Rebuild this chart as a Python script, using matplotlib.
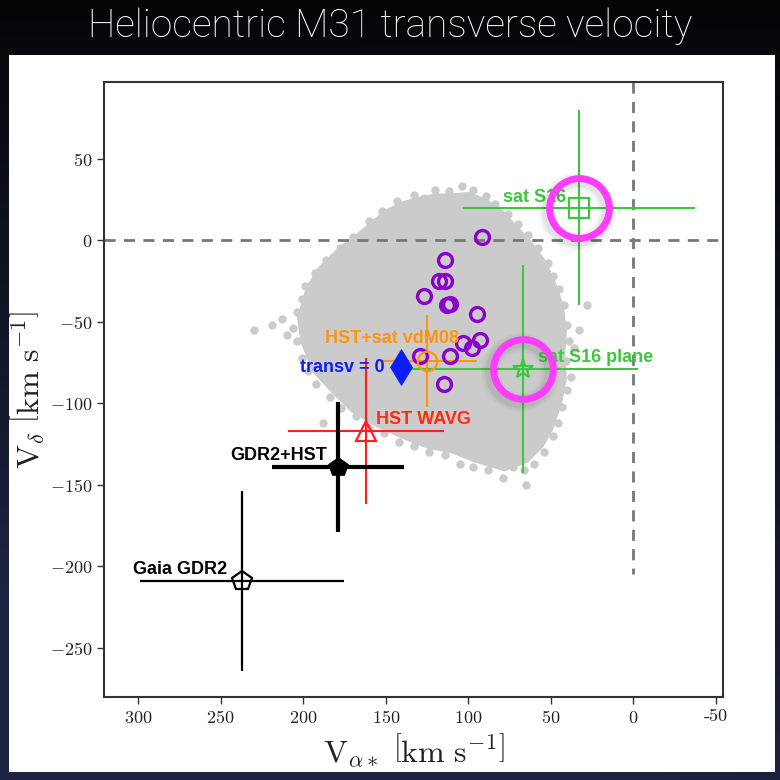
import matplotlib
matplotlib.use("Agg")
import matplotlib.pyplot as plt
import numpy as np
from matplotlib.patches import Rectangle, Polygon

plt.rcParams['mathtext.fontset'] = 'cm'

# measured transverse velocities (V_alpha*, V_delta) and errors, km/s
names = ["sat S16", "sat S16 plane", "HST+sat vdM08", "transv = 0",
         "HST WAVG", "GDR2+HST", "Gaia GDR2"]
vra = [33, 67, 125, 141, 162, 179, 237]
vdec = [20, -79, -74, -78, -117, -139, -209]
vra_err = [70, 70, 30, 0, 47, 40, 62]
vdec_err = [60, 64, 28, 0, 45, 40, 55]

# satellite galaxy velocities
sat_vra = [92, 114, 118, 114, 127, 113, 111, 95, 103, 98, 93, 129, 111, 115]
sat_vdec = [2, -12, -25, -25, -34, -40, -39, -45, -63, -66, -61, -71, -71, -88]

# outline of the dense part of the Monte Carlo cloud
cloud_vra = [150, 140, 130, 120, 110, 100, 90, 80, 70, 62, 54, 48, 44, 42,
             43, 42, 45, 50, 56, 65, 78, 95, 110, 125, 140, 155, 170, 182,
             193, 200, 202, 197, 190, 178, 165]
cloud_vdec = [17, 22, 25, 27, 27, 28, 24, 17, 6, -3, -14, -28, -40, -55,
              -70, -85, -100, -115, -126, -135, -140, -135, -129, -126, -120,
              -113, -104, -92, -80, -62, -48, -30, -18, -6, 4]

# loose samples around the cloud edge
edge_vra = [160, 152, 143, 133, 127, 120, 112, 104, 97, 89, 84, 76, 70, 64,
            58, 52, 49, 45, 42, 40, 39, 41, 38, 40, 43, 46, 49, 36, 33,
            54, 60, 66, 73, 79, 88, 97, 105, 114, 124, 133, 142, 151, 160,
            168, 177, 184, 192, 197, 201, 204, 206, 204, 201, 199, 193, 186,
            178, 170, 219, 213, 210, 188, 65, 28, 230]
edge_vdec = [12, 18, 24, 28, 26, 31, 30, 33, 31, 27, 22, 16, 10, 3,
             -5, -14, -22, -30, -40, -52, -62, -74, -84, -92, -102, -112, -120,
             -66, -55, -130, -137, -141, -139, -146, -141, -139, -137, -132,
             -130, -126, -124, -118, -115, -108, -103, -96, -88, -80, -72,
             -62, -54, -44, -36, -28, -20, -12, -5, 2, -52, -48, -58, -112,
             -150, -40, -55]

colors = ["#3ec63e", "#3ec63e", "#ff9410", "#0a1ef5", "#ff1f1f", "black", "black"]
text_colors = ["#3ec63e", "#3ec63e", "#ff9410", "#0a1ef5", "#ff2a10", "black", "black"]
label_x = [79, 58, 187, 202, 156, 244, 303]
label_y = [26, -72, -60, -78, -110, -132, -202]

fig = plt.figure(figsize=(7.8, 7.8), dpi=100)

# dark backdrop
bg = fig.add_axes([0, 0, 1, 1])
gy, gx = np.mgrid[0:1:200j, 0:1:200j]
shade = np.clip(gy * 0.9 + (1 - gx) * gy * 0.35, 0, 1)
rgb = np.zeros((200, 200, 3))
rgb[..., 0] = 0.02 + 0.10 * shade
rgb[..., 1] = 0.02 + 0.12 * shade
rgb[..., 2] = 0.03 + 0.24 * shade
bg.imshow(rgb, extent=[0, 1, 0, 1], aspect='auto', origin='upper')
bg.set_axis_off()
bg.add_patch(Rectangle((9 / 780, 1 - 772 / 780), 766 / 780, 717 / 780,
                       facecolor='white', edgecolor='none'))

fig.text(0.5, 1 - 37 / 780, "Heliocentric M31 transverse velocity",
         color='white', ha='center', va='baseline', fontsize=28,
         family='Roboto', weight='light')

ax = fig.add_axes([104 / 780, 1 - 697 / 780, 619 / 780, 615 / 780])
ax.set_xlim(320.6, -54.2)
ax.set_ylim(-280.2, 97.1)

gray = "#cbcbcb"
ax.add_patch(Polygon(np.column_stack([cloud_vra, cloud_vdec]), closed=True,
                     facecolor=gray, edgecolor=gray, lw=4, zorder=1))
ax.plot(edge_vra, edge_vdec, 'o', color=gray, ms=6, mew=0, zorder=1)

ax.axhline(0, color='#777777', lw=2, ls=(0, (4, 3)), zorder=2)
ax.plot([0, 0], [97.1, -205], color='#777777', lw=2, ls=(0, (4, 3)), zorder=2)

markers = ['s', '*', 'o', 'd', '^', 'p', 'p']
msizes = [14, 15, 14, 18, 14, 15, 15]
lws = [1.5, 1.5, 1.5, 0, 1.5, 3, 1.6]
filled = [False, False, False, True, False, True, False]

for i in range(len(names)):
    if vra_err[i] > 0:
        ax.errorbar(vra[i], vdec[i], xerr=vra_err[i], yerr=vdec_err[i],
                    fmt='none', ecolor=colors[i], elinewidth=lws[i],
                    capsize=0, zorder=3)
    ax.plot(vra[i], vdec[i], markers[i], ms=msizes[i],
            mfc=colors[i] if filled[i] else 'none', mec=colors[i],
            mew=1.6 if not filled[i] else 0.5, zorder=5)
    ax.text(label_x[i], label_y[i], names[i], color=text_colors[i],
            fontsize=13, weight='bold', family='Liberation Sans',
            ha='left', va='center', zorder=6)

ax.plot(sat_vra, sat_vdec, 'o', ms=10, mfc='none', mec='#8a00cc', mew=2.4,
        zorder=4)

# highlight rings with a soft shadow
for j in [0, 1]:
    for k, a in enumerate([0.025, 0.035, 0.05]):
        ax.plot(vra[j] + 1.5, vdec[j] - 2, 'o', ms=43, mfc='none',
                mec='black', mew=5 + 3 * (3 - k), alpha=a, zorder=6)
    ax.plot(vra[j], vdec[j], 'o', ms=43, mfc='none', mec='#ff3cff', mew=5,
            zorder=7)

xt = [300, 250, 200, 150, 100, 50, 0, -50]
yt = [-250, -200, -150, -100, -50, 0, 50]
ax.set_xticks(xt, labels=[f"${v}$" if v >= 0 else "-50" for v in xt])
ax.set_yticks(yt, labels=[f"${v}$" for v in yt])
for lab in ax.get_xticklabels():
    if lab.get_text() == "-50":
        lab.set_family('cmr10')
ax.tick_params(labelsize=13, length=5, width=1, color='#333333',
               labelcolor='#222222')
for s in ax.spines.values():
    s.set_linewidth(1.5)
    s.set_color('#333333')

ax.set_xlabel(r"$\mathrm{V}_{\alpha*}\ \left[\mathrm{km\ s^{-1}}\right]$",
              fontsize=23, color='#222222', labelpad=4)
ax.set_ylabel(r"$\mathrm{V}_{\delta}\ \left[\mathrm{km\ s^{-1}}\right]$",
              fontsize=23, color='#222222', labelpad=2)

fig.savefig("out.png", dpi=100)
